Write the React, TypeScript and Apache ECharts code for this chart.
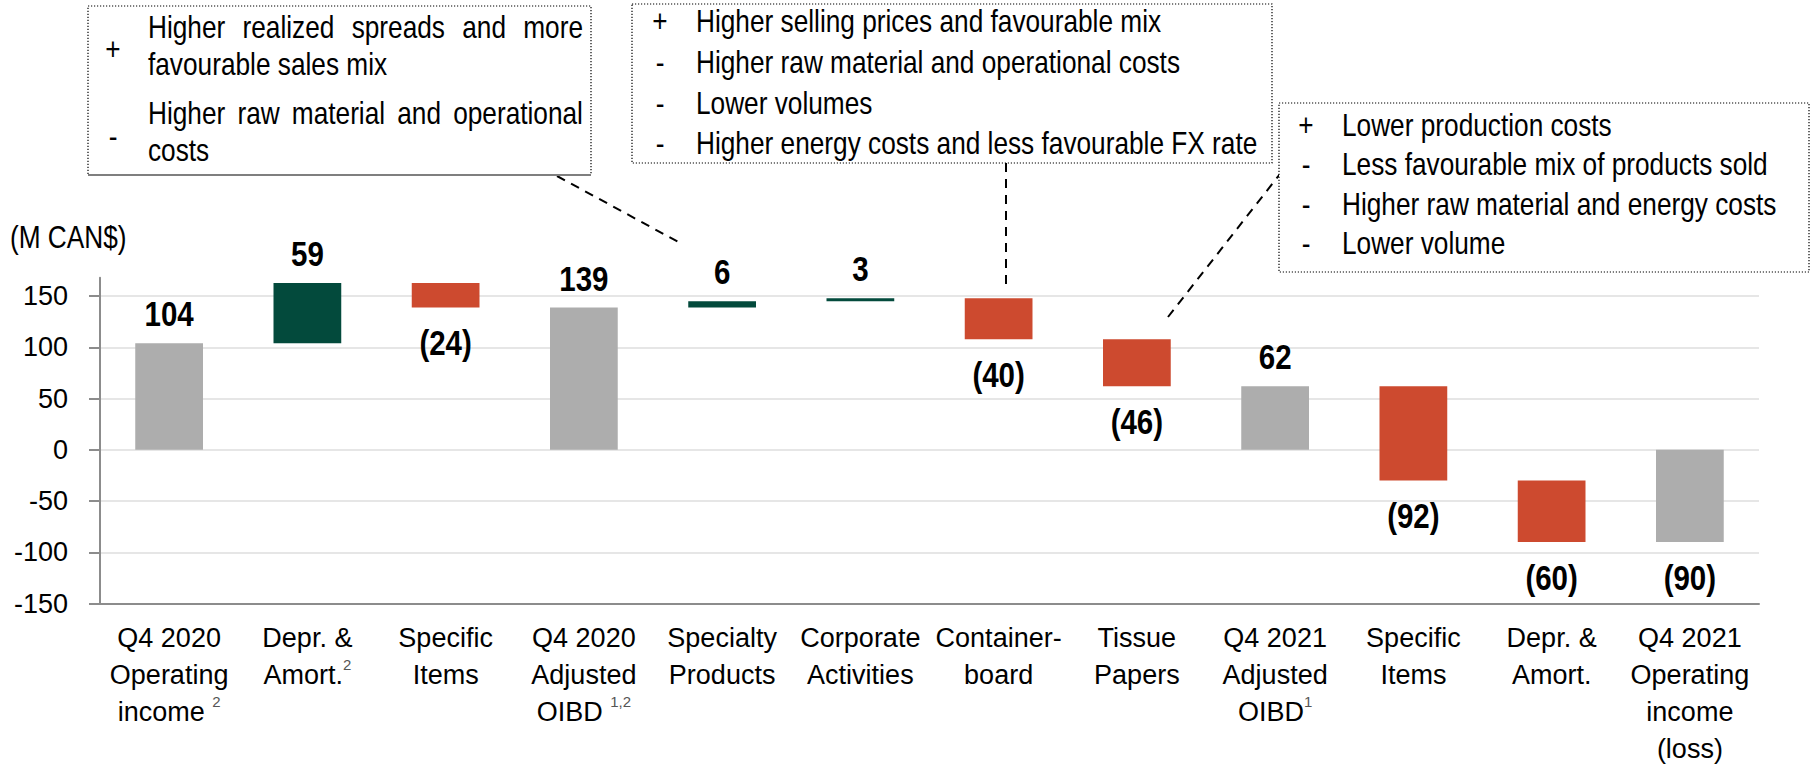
import React, { useEffect, useRef } from 'react';
import * as echarts from 'echarts';

// ---------------- data ----------------
const categories = [
  'Q4 2020\nOperating\nincome',
  'Depr. &\nAmort.',
  'Specific\nItems',
  'Q4 2020\nAdjusted\nOIBD',
  'Specialty\nProducts',
  'Corporate\nActivities',
  'Container-\nboard',
  'Tissue\nPapers',
  'Q4 2021\nAdjusted\nOIBD',
  'Specific\nItems',
  'Depr. &\nAmort.',
  'Q4 2021\nOperating\nincome\n(loss)',
];
// leading space = gap between word and footnote mark
const footnotes = [' 2', '2', '', ' 1,2', '', '', '', '', '1', '', '', ''];
const changes = [104, 59, -24, 139, 6, 3, -40, -46, 62, -92, -60, -90];
const barKinds = ['total', 'increase', 'decrease', 'total', 'increase', 'increase', 'decrease', 'decrease', 'total', 'decrease', 'decrease', 'total'];
const valueLabels = ['104', '59', '(24)', '139', '6', '3', '(40)', '(46)', '62', '(92)', '(60)', '(90)'];
const yTicks = [-150, -100, -50, 0, 50, 100, 150];
const yMin = -150;
const yMax = 168;
const yStep = 50;
const unitLabel = '(M CAN$)';

const noteSpecialtySigns = ['+', '-'];
const noteSpecialtyLines = [
  ['Higher realized spreads and more', 'favourable sales mix'],
  ['Higher raw material and operational', 'costs'],
];
const noteContainerSigns = ['+', '-', '-', '-'];
const noteContainerLines = [
  'Higher selling prices and favourable mix',
  'Higher raw material and operational costs',
  'Lower volumes',
  'Higher energy costs and less favourable FX rate',
];
const noteTissueSigns = ['+', '-', '-', '-'];
const noteTissueLines = [
  'Lower production costs',
  'Less favourable mix of products sold',
  'Higher raw material and energy costs',
  'Lower volume',
];

const COLORS: Record<string, string> = {
  total: '#ADADAD',
  increase: '#034A3C',
  decrease: '#CD4A2F',
};

// -------------- helpers ---------------
function fontAvailable(name: string): boolean {
  const ctx = document.createElement('canvas').getContext('2d');
  if (!ctx) return false;
  const s = 'Higher realized spreads 0123456789 WMmw';
  ctx.font = '40px monospace';
  const a = ctx.measureText(s).width;
  ctx.font = `40px ${name}, monospace`;
  const b = ctx.measureText(s).width;
  return Math.abs(a - b) > 0.5;
}

export default function App() {
  const ref = useRef<HTMLDivElement>(null);

  useEffect(() => {
    if (!ref.current) return;
    const narrow = fontAvailable("'Liberation Sans Narrow'");
    const FF = narrow ? "'Liberation Sans Narrow', 'Arial Narrow', sans-serif" : "'Liberation Sans', Arial, sans-serif";
    const SX = narrow ? 1 : 0.82;
    const AXS = narrow ? 1 : 0.9; // axis label size factor when no narrow face

    const mctx = document.createElement('canvas').getContext('2d')!;
    const measure = (t: string, size: number, bold = false) => {
      mctx.font = `${bold ? 'bold ' : ''}${size}px ${FF}`;
      return mctx.measureText(t).width * SX;
    };

    const chart = echarts.init(ref.current, undefined, { renderer: 'svg' });

    // waterfall ranges
    const ranges: number[][] = [];
    let run = 0;
    changes.forEach((c, i) => {
      let a: number, b: number;
      if (barKinds[i] === 'total') {
        a = 0; b = c; run = c;
      } else {
        a = run; b = run + c; run = b;
      }
      ranges.push([i, Math.min(a, b), Math.max(a, b)]);
    });

    const TS = 32; // annotation font size
    const txt = (text: string, x: number, y: number, size = TS, align = 'left', bold = false) => ({
      type: 'text',
      x,
      y,
      scaleX: SX,
      silent: true,
      z: 10,
      style: {
        text,
        fontFamily: FF,
        fontSize: size,
        fontWeight: bold ? 'bold' : 'normal',
        fill: '#000',
        align,
        textAlign: align,
        verticalAlign: 'middle',
        textVerticalAlign: 'middle',
      },
    });

    const justified = (line: string, left: number, right: number, y: number) => {
      const words = line.split(' ');
      const widths = words.map((w) => measure(w, TS));
      const total = widths.reduce((s, v) => s + v, 0);
      const gap = words.length > 1 ? (right - left - total) / (words.length - 1) : 0;
      let x = left;
      return words.map((w, k) => {
        const el = txt(w, x, y);
        x += widths[k] + gap;
        return el;
      });
    };

    const dotted = { stroke: '#000', lineWidth: 1.2, lineDash: [1.2, 1.8], fill: '#fff' };
    const dashed = { stroke: '#000', lineWidth: 2, lineDash: [9, 7] };

    const graphics: any[] = [];
    // connectors
    graphics.push({ type: 'line', z: 5, silent: true, shape: { x1: 557, y1: 176, x2: 682, y2: 244 }, style: dashed });
    graphics.push({ type: 'line', z: 5, silent: true, shape: { x1: 1006, y1: 163, x2: 1006, y2: 287 }, style: dashed });
    graphics.push({ type: 'line', z: 5, silent: true, shape: { x1: 1168, y1: 317, x2: 1280, y2: 174 }, style: dashed });

    // box 1 (Specialty products)
    graphics.push({ type: 'rect', z: 6, silent: true, shape: { x: 88, y: 6, width: 503, height: 169 }, style: dotted });
    graphics.push({ type: 'line', z: 7, silent: true, shape: { x1: 88, y1: 175, x2: 591, y2: 175 }, style: { stroke: '#7f7f7f', lineWidth: 2 } });
    graphics.push(txt(noteSpecialtySigns[0], 113, 49, TS, 'center'));
    graphics.push(...justified(noteSpecialtyLines[0][0], 148, 583, 27));
    graphics.push(txt(noteSpecialtyLines[0][1], 148, 64));
    graphics.push(txt(noteSpecialtySigns[1], 113, 136, TS, 'center'));
    graphics.push(...justified(noteSpecialtyLines[1][0], 148, 583, 113));
    graphics.push(txt(noteSpecialtyLines[1][1], 148, 150));

    // box 2 (Containerboard)
    graphics.push({ type: 'rect', z: 6, silent: true, shape: { x: 632, y: 4, width: 640, height: 159 }, style: dotted });
    noteContainerLines.forEach((l, k) => {
      const y = 21 + k * 40.8;
      graphics.push(txt(noteContainerSigns[k], 660, y, TS, 'center'));
      graphics.push(txt(l, 696, y));
    });

    // box 3 (Tissue)
    graphics.push({ type: 'rect', z: 6, silent: true, shape: { x: 1279, y: 103, width: 530, height: 169 }, style: dotted });
    noteTissueLines.forEach((l, k) => {
      const y = 125 + k * 39.5;
      graphics.push(txt(noteTissueSigns[k], 1306, y, TS, 'center'));
      graphics.push(txt(l, 1342, y));
    });

    // unit label
    graphics.push(txt(unitLabel, 10, 237, TS));

    const splitColors = yTicks.map(() => '#e6e6e6').concat(['rgba(0,0,0,0)']);

    const option: any = {
      animation: false,
      grid: {
        left: 100,
        right: 53,
        top: 277.8,
        bottom: 163.5,
        containLabel: false,
        outerBoundsMode: 'none',
      },
      xAxis: {
        type: 'category',
        data: categories,
        axisLine: { onZero: false, lineStyle: { color: '#8c8c8c', width: 2 } },
        axisTick: { show: false },
        splitLine: { show: false },
        axisLabel: {
          interval: 0,
          margin: 16,
          hideOverlap: false,
          formatter: (value: string, idx: number) => {
            const lines = value.split('\n');
            const fn = footnotes[idx] || '';
            const out = lines.map((l, k) => {
              if (k === lines.length - 1 && fn) {
                const gap = fn.startsWith(' ') ? ' ' : '';
                return `{c|${l}${gap}}{s|${fn.trim()}}`;
              }
              return `{c|${l}}`;
            });
            return out.join('\n');
          },
          rich: {
            c: { fontFamily: FF, fontSize: 30 * AXS, lineHeight: 37, color: '#000' },
            s: { fontFamily: FF, fontSize: 15, lineHeight: 22, color: '#555', verticalAlign: 'top' },
          },
        },
      },
      yAxis: {
        type: 'value',
        min: yMin,
        max: yMax,
        interval: yStep,
        axisLine: { show: true, lineStyle: { color: '#8c8c8c', width: 2 } },
        axisTick: { show: true, length: 11, customValues: yTicks, lineStyle: { color: '#8c8c8c', width: 2 } },
        axisLabel: {
          margin: 32,
          customValues: yTicks,
          color: '#000',
          fontFamily: FF,
          fontSize: 30 * AXS,
        },
        splitLine: { show: true, lineStyle: { color: splitColors, width: 2 } },
      },
      graphic: graphics,
      series: [
        {
          type: 'custom',
          clip: false,
          encode: { x: 0, y: [1, 2] },
          data: ranges,
          renderItem: (params: any, api: any) => {
            const i = params.dataIndex;
            const xi = api.value(0);
            const pHi = api.coord([xi, api.value(2)]);
            const pLo = api.coord([xi, api.value(1)]);
            const w = api.size([1, 0])[0] * 0.49;
            const kind = barKinds[i];
            const negative = changes[i] < 0;
            const ly = negative ? pLo[1] + 35 : pHi[1] - 29.5;
            return {
              type: 'group',
              children: [
                {
                  type: 'rect',
                  shape: { x: pHi[0] - w / 2, y: pHi[1], width: w, height: pLo[1] - pHi[1] },
                  style: { fill: COLORS[kind] },
                },
                {
                  type: 'text',
                  x: pHi[0],
                  y: ly,
                  scaleX: SX,
                  style: {
                    text: valueLabels[i],
                    fontFamily: FF,
                    fontSize: 36,
                    fontWeight: 'bold',
                    fill: '#000',
                    align: 'center',
                    textAlign: 'center',
                    verticalAlign: 'middle',
                    textVerticalAlign: 'middle',
                  },
                },
              ],
            };
          },
        },
      ],
    };

    chart.setOption(option);
    return () => {
      chart.dispose();
    };
  }, []);

  return (
    <div
      ref={ref}
      style={{ position: 'fixed', left: 0, top: 0, width: 1812, height: 767, background: '#fff' }}
    />
  );
}
